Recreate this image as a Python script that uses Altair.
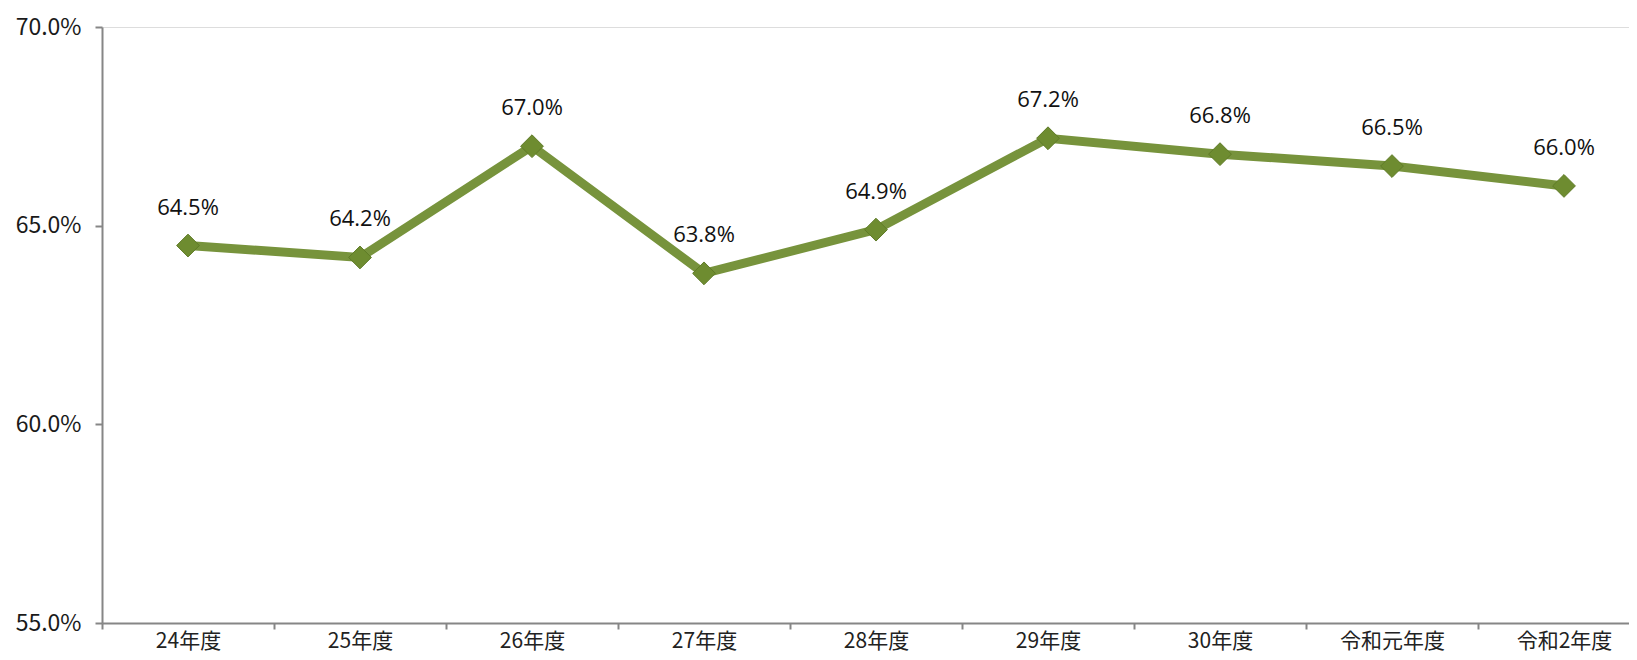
import altair as alt
import pandas as pd

years = ["24年度", "25年度", "26年度", "27年度", "28年度", "29年度", "30年度", "令和元年度", "令和2年度"]
rates = [0.645, 0.642, 0.670, 0.638, 0.649, 0.672, 0.668, 0.665, 0.660]
y_ticks = [0.55, 0.60, 0.65, 0.70]

df = pd.DataFrame({"year": years, "rate": rates})

x = alt.X(
    "year:N",
    sort=years,
    title=None,
    scale=alt.Scale(type="band", paddingInner=0, paddingOuter=0, range=[0, 1548]),
    axis=alt.Axis(
        labelAngle=0,
        tickBand="extent",
        domainColor="#868686",
        domainWidth=2,
        tickColor="#868686",
        tickWidth=2,
        tickSize=6,
        labelFont="Noto Sans CJK JP",
        labelFontSize=21,
        labelColor="#222222",
        labelPadding=1,
        labelBaseline="top",
        grid=False,
    ),
)

y = alt.Y(
    "rate:Q",
    title=None,
    scale=alt.Scale(domain=[0.55, 0.70], nice=False, zero=False),
    axis=alt.Axis(
        values=y_ticks,
        format=".1%",
        domainColor="#868686",
        domainWidth=2,
        tickColor="#868686",
        tickWidth=2,
        tickSize=7,
        labelFont="Noto Sans CJK JP",
        labelFontSize=23,
        labelColor="#1a1a1a",
        labelPadding=14,
        grid=False,
    ),
)

base = alt.Chart(df).encode(x=x, y=y)

line = base.mark_line(color="#77933C", strokeWidth=9)
points = base.mark_point(shape="diamond", size=520, filled=True, fill="#6E8C30", opacity=1, stroke="#5F7B27", strokeWidth=1)
labels = base.mark_text(
    font="Open Sans",
    fontSize=22,
    color="#111111",
    baseline="alphabetic",
    dy=-31,
).encode(text=alt.Text("rate:Q", format=".1%"))

chart = (
    alt.layer(line, points, labels)
    .properties(
        width=1527,
        height=596,
        autosize=alt.AutoSizeParams(type="none"),
        padding={"left": 94, "top": 19, "right": 0, "bottom": 29},
    )
    .configure_view(stroke=None)
    .configure(background="white")
)

chart.save("out.html", embed_options={"renderer": "svg", "actions": False})
